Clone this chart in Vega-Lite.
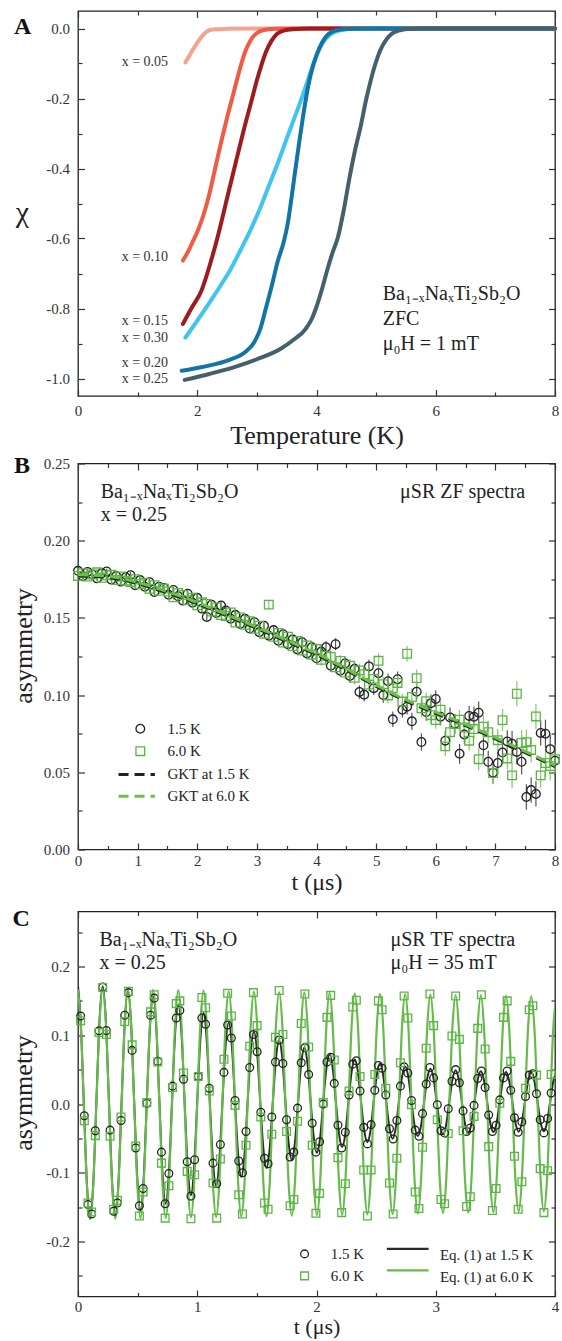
{
"$schema": "https://vega.github.io/schema/vega-lite/v6.json",
"autosize": {"type": "none"},
"padding": {"left": 78, "top": 11, "right": 484, "bottom": 1330},
"background": "white",
"spacing": 67.5,
"bounds": "flush",
"config": {
  "font": "Liberation Serif",
  "view": {"stroke": "#222", "strokeWidth": 1.3},
  "axis": {"domain": false, "grid": false, "labelFont": "Liberation Serif", "labelFontSize": 15, "labelColor": "#333", "tickColor": "#333", "tickWidth": 1.2, "titleFont": "Liberation Serif", "titleFontSize": 26, "titleFontWeight": "normal", "titleColor": "#222", "labelFlush": false, "labelOverlap": false},
  "style": {"guide-title": {"font": "Liberation Serif"}, "guide-label": {"font": "Liberation Serif"}},
  "text": {"font": "Liberation Serif", "color": "#222"}
},
"datasets": {
  "chi": [
    {"T":1.80,"chi":-0.097,"x":"0.05"},{"T":1.85,"chi":-0.083,"x":"0.05"},{"T":1.90,"chi":-0.068,"x":"0.05"},{"T":1.95,"chi":-0.054,"x":"0.05"},{"T":2.00,"chi":-0.041,"x":"0.05"},{"T":2.05,"chi":-0.029,"x":"0.05"},{"T":2.10,"chi":-0.018,"x":"0.05"},{"T":2.15,"chi":-0.010,"x":"0.05"},{"T":2.20,"chi":-0.005,"x":"0.05"},{"T":2.30,"chi":-0.002,"x":"0.05"},{"T":2.50,"chi":-0.001,"x":"0.05"},{"T":3.0,"chi":0,"x":"0.05"},{"T":8,"chi":0,"x":"0.05"},
    {"T":1.76,"chi":-0.663,"x":"0.10"},{"T":1.85,"chi":-0.636,"x":"0.10"},{"T":1.93,"chi":-0.607,"x":"0.10"},{"T":2.01,"chi":-0.577,"x":"0.10"},{"T":2.10,"chi":-0.535,"x":"0.10"},{"T":2.20,"chi":-0.475,"x":"0.10"},{"T":2.30,"chi":-0.400,"x":"0.10"},{"T":2.40,"chi":-0.325,"x":"0.10"},{"T":2.50,"chi":-0.255,"x":"0.10"},{"T":2.60,"chi":-0.190,"x":"0.10"},{"T":2.70,"chi":-0.125,"x":"0.10"},{"T":2.80,"chi":-0.068,"x":"0.10"},{"T":2.90,"chi":-0.032,"x":"0.10"},{"T":3.00,"chi":-0.013,"x":"0.10"},{"T":3.10,"chi":-0.005,"x":"0.10"},{"T":3.30,"chi":-0.001,"x":"0.10"},{"T":3.6,"chi":0,"x":"0.10"},{"T":8,"chi":0,"x":"0.10"},
    {"T":1.76,"chi":-0.844,"x":"0.15"},{"T":1.90,"chi":-0.800,"x":"0.15"},{"T":2.07,"chi":-0.749,"x":"0.15"},{"T":2.25,"chi":-0.653,"x":"0.15"},{"T":2.37,"chi":-0.577,"x":"0.15"},{"T":2.50,"chi":-0.485,"x":"0.15"},{"T":2.65,"chi":-0.380,"x":"0.15"},{"T":2.78,"chi":-0.290,"x":"0.15"},{"T":2.92,"chi":-0.200,"x":"0.15"},{"T":3.00,"chi":-0.148,"x":"0.15"},{"T":3.07,"chi":-0.108,"x":"0.15"},{"T":3.15,"chi":-0.068,"x":"0.15"},{"T":3.25,"chi":-0.034,"x":"0.15"},{"T":3.34,"chi":-0.015,"x":"0.15"},{"T":3.45,"chi":-0.006,"x":"0.15"},{"T":3.60,"chi":-0.002,"x":"0.15"},{"T":3.9,"chi":0,"x":"0.15"},{"T":8,"chi":0,"x":"0.15"},
    {"T":1.80,"chi":-0.883,"x":"0.30"},{"T":2.00,"chi":-0.835,"x":"0.30"},{"T":2.19,"chi":-0.787,"x":"0.30"},{"T":2.37,"chi":-0.740,"x":"0.30"},{"T":2.55,"chi":-0.691,"x":"0.30"},{"T":2.72,"chi":-0.635,"x":"0.30"},{"T":2.89,"chi":-0.577,"x":"0.30"},{"T":3.05,"chi":-0.515,"x":"0.30"},{"T":3.20,"chi":-0.450,"x":"0.30"},{"T":3.35,"chi":-0.385,"x":"0.30"},{"T":3.50,"chi":-0.315,"x":"0.30"},{"T":3.62,"chi":-0.260,"x":"0.30"},{"T":3.75,"chi":-0.200,"x":"0.30"},{"T":3.85,"chi":-0.150,"x":"0.30"},{"T":3.95,"chi":-0.100,"x":"0.30"},{"T":4.05,"chi":-0.058,"x":"0.30"},{"T":4.15,"chi":-0.030,"x":"0.30"},{"T":4.27,"chi":-0.013,"x":"0.30"},{"T":4.40,"chi":-0.005,"x":"0.30"},{"T":4.60,"chi":-0.001,"x":"0.30"},{"T":4.9,"chi":0,"x":"0.30"},{"T":8,"chi":0,"x":"0.30"},
    {"T":1.74,"chi":-0.978,"x":"0.20"},{"T":2.00,"chi":-0.970,"x":"0.20"},{"T":2.30,"chi":-0.959,"x":"0.20"},{"T":2.55,"chi":-0.946,"x":"0.20"},{"T":2.80,"chi":-0.925,"x":"0.20"},{"T":2.95,"chi":-0.898,"x":"0.20"},{"T":3.05,"chi":-0.862,"x":"0.20"},{"T":3.15,"chi":-0.800,"x":"0.20"},{"T":3.25,"chi":-0.735,"x":"0.20"},{"T":3.35,"chi":-0.665,"x":"0.20"},{"T":3.45,"chi":-0.610,"x":"0.20"},{"T":3.52,"chi":-0.555,"x":"0.20"},{"T":3.58,"chi":-0.485,"x":"0.20"},{"T":3.64,"chi":-0.410,"x":"0.20"},{"T":3.71,"chi":-0.325,"x":"0.20"},{"T":3.78,"chi":-0.245,"x":"0.20"},{"T":3.86,"chi":-0.165,"x":"0.20"},{"T":3.95,"chi":-0.102,"x":"0.20"},{"T":4.05,"chi":-0.055,"x":"0.20"},{"T":4.15,"chi":-0.025,"x":"0.20"},{"T":4.25,"chi":-0.010,"x":"0.20"},{"T":4.40,"chi":-0.003,"x":"0.20"},{"T":4.60,"chi":-0.001,"x":"0.20"},{"T":5.0,"chi":0,"x":"0.20"},{"T":8,"chi":0,"x":"0.20"},
    {"T":1.79,"chi":-1.004,"x":"0.25"},{"T":2.20,"chi":-0.987,"x":"0.25"},{"T":2.61,"chi":-0.968,"x":"0.25"},{"T":3.00,"chi":-0.945,"x":"0.25"},{"T":3.40,"chi":-0.915,"x":"0.25"},{"T":3.61,"chi":-0.890,"x":"0.25"},{"T":3.82,"chi":-0.858,"x":"0.25"},{"T":3.92,"chi":-0.830,"x":"0.25"},{"T":4.00,"chi":-0.795,"x":"0.25"},{"T":4.10,"chi":-0.740,"x":"0.25"},{"T":4.18,"chi":-0.690,"x":"0.25"},{"T":4.27,"chi":-0.640,"x":"0.25"},{"T":4.36,"chi":-0.596,"x":"0.25"},{"T":4.45,"chi":-0.525,"x":"0.25"},{"T":4.55,"chi":-0.430,"x":"0.25"},{"T":4.65,"chi":-0.345,"x":"0.25"},{"T":4.74,"chi":-0.280,"x":"0.25"},{"T":4.83,"chi":-0.205,"x":"0.25"},{"T":4.90,"chi":-0.155,"x":"0.25"},{"T":4.98,"chi":-0.105,"x":"0.25"},{"T":5.07,"chi":-0.062,"x":"0.25"},{"T":5.17,"chi":-0.032,"x":"0.25"},{"T":5.27,"chi":-0.014,"x":"0.25"},{"T":5.40,"chi":-0.005,"x":"0.25"},{"T":5.60,"chi":-0.001,"x":"0.25"},{"T":5.8,"chi":0,"x":"0.25"},{"T":8,"chi":0,"x":"0.25"}
  ],
  "zf": [
    {"t":0,"b":0.1805,"g":0.1772,"e":0.0017},{"t":0.08,"b":0.177,"g":0.179,"e":0.0017},{"t":0.16,"b":0.1798,"g":0.1768,"e":0.0017},{"t":0.24,"b":0.1782,"g":0.1781,"e":0.0017},{"t":0.32,"b":0.1756,"g":0.1795,"e":0.0017},{"t":0.4,"b":0.179,"g":0.176,"e":0.0017},{"t":0.48,"b":0.1801,"g":0.1776,"e":0.0017},{"t":0.56,"b":0.1748,"g":0.1779,"e":0.0019},{"t":0.64,"b":0.1771,"g":0.1745,"e":0.0019},{"t":0.72,"b":0.1735,"g":0.1768,"e":0.0019},{"t":0.8,"b":0.1763,"g":0.1741,"e":0.0019},{"t":0.88,"b":0.1777,"g":0.1733,"e":0.0019},{"t":0.96,"b":0.1712,"g":0.175,"e":0.0019},{"t":1.04,"b":0.1745,"g":0.1718,"e":0.0019},{"t":1.12,"b":0.1702,"g":0.1728,"e":0.0021},{"t":1.2,"b":0.1731,"g":0.1689,"e":0.0021},{"t":1.28,"b":0.1668,"g":0.1712,"e":0.0021},{"t":1.36,"b":0.1702,"g":0.1676,"e":0.0021},{"t":1.44,"b":0.1694,"g":0.169,"e":0.0021},{"t":1.52,"b":0.165,"g":0.1671,"e":0.0021},{"t":1.6,"b":0.1681,"g":0.1633,"e":0.0021},{"t":1.68,"b":0.164,"g":0.1662,"e":0.0024},{"t":1.76,"b":0.1612,"g":0.1648,"e":0.0024},{"t":1.84,"b":0.1657,"g":0.1615,"e":0.0024},{"t":1.92,"b":0.1598,"g":0.163,"e":0.0024},{"t":2,"b":0.163,"g":0.1582,"e":0.0024},{"t":2.08,"b":0.156,"g":0.1601,"e":0.0024},{"t":2.16,"b":0.1506,"g":0.159,"e":0.0024},{"t":2.24,"b":0.1585,"g":0.1541,"e":0.0027},{"t":2.32,"b":0.1532,"g":0.1568,"e":0.0027},{"t":2.4,"b":0.158,"g":0.1518,"e":0.0027},{"t":2.48,"b":0.1548,"g":0.1512,"e":0.0027},{"t":2.56,"b":0.1495,"g":0.1535,"e":0.0027},{"t":2.64,"b":0.152,"g":0.147,"e":0.0027},{"t":2.72,"b":0.1461,"g":0.1503,"e":0.0027},{"t":2.8,"b":0.1494,"g":0.1455,"e":0.003},{"t":2.88,"b":0.1431,"g":0.1478,"e":0.003},{"t":2.96,"b":0.1472,"g":0.1429,"e":0.003},{"t":3.04,"b":0.1408,"g":0.145,"e":0.003},{"t":3.12,"b":0.1449,"g":0.1398,"e":0.003},{"t":3.2,"b":0.1385,"g":0.1586,"e":0.003},{"t":3.28,"b":0.1421,"g":0.1377,"e":0.003},{"t":3.36,"b":0.1352,"g":0.1403,"e":0.0034},{"t":3.44,"b":0.1394,"g":0.134,"e":0.0034},{"t":3.52,"b":0.133,"g":0.1378,"e":0.0034},{"t":3.6,"b":0.1361,"g":0.1318,"e":0.0034},{"t":3.68,"b":0.1296,"g":0.135,"e":0.0034},{"t":3.76,"b":0.1342,"g":0.1289,"e":0.0034},{"t":3.84,"b":0.127,"g":0.1322,"e":0.0034},{"t":3.92,"b":0.131,"g":0.1262,"e":0.0039},{"t":4,"b":0.1238,"g":0.1298,"e":0.0039},{"t":4.08,"b":0.1282,"g":0.1229,"e":0.0039},{"t":4.16,"b":0.131,"g":0.1255,"e":0.0039},{"t":4.24,"b":0.119,"g":0.1247,"e":0.0039},{"t":4.32,"b":0.133,"g":0.118,"e":0.0039},{"t":4.4,"b":0.1158,"g":0.1221,"e":0.0039},{"t":4.48,"b":0.1205,"g":0.1146,"e":0.0044},{"t":4.56,"b":0.1124,"g":0.119,"e":0.0044},{"t":4.64,"b":0.117,"g":0.1112,"e":0.0044},{"t":4.72,"b":0.102,"g":0.116,"e":0.0044},{"t":4.8,"b":0.1003,"g":0.1135,"e":0.0044},{"t":4.88,"b":0.1186,"g":0.1068,"e":0.0044},{"t":4.96,"b":0.1045,"g":0.1105,"e":0.0044},{"t":5.04,"b":0.1142,"g":0.1222,"e":0.005},{"t":5.12,"b":0.1,"g":0.107,"e":0.005},{"t":5.2,"b":0.109,"g":0.0998,"e":0.005},{"t":5.28,"b":0.0843,"g":0.1045,"e":0.005},{"t":5.36,"b":0.1103,"g":0.1079,"e":0.005},{"t":5.44,"b":0.0905,"g":0.0958,"e":0.005},{"t":5.52,"b":0.0925,"g":0.1268,"e":0.005},{"t":5.6,"b":0.083,"g":0.0988,"e":0.0056},{"t":5.68,"b":0.1022,"g":0.111,"e":0.0056},{"t":5.76,"b":0.0696,"g":0.0915,"e":0.0056},{"t":5.84,"b":0.089,"g":0.096,"e":0.0056},{"t":5.92,"b":0.0948,"g":0.087,"e":0.0056},{"t":6,"b":0.0975,"g":0.0838,"e":0.0056},{"t":6.08,"b":0.086,"g":0.0905,"e":0.0056},{"t":6.16,"b":0.0705,"g":0.0668,"e":0.0064},{"t":6.24,"b":0.0855,"g":0.076,"e":0.0064},{"t":6.32,"b":0.0815,"g":0.0812,"e":0.0064},{"t":6.4,"b":0.062,"g":0.084,"e":0.0064},{"t":6.48,"b":0.0745,"g":0.079,"e":0.0064},{"t":6.56,"b":0.0865,"g":0.0705,"e":0.0064},{"t":6.64,"b":0.086,"g":0.078,"e":0.0064},{"t":6.72,"b":0.0886,"g":0.0585,"e":0.0072},{"t":6.8,"b":0.0675,"g":0.0795,"e":0.0072},{"t":6.88,"b":0.0568,"g":0.076,"e":0.0072},{"t":6.96,"b":0.0498,"g":0.0495,"e":0.0072},{"t":7.04,"b":0.056,"g":0.0708,"e":0.0072},{"t":7.12,"b":0.0628,"g":0.0838,"e":0.0072},{"t":7.2,"b":0.07,"g":0.059,"e":0.0072},{"t":7.28,"b":0.0685,"g":0.048,"e":0.0082},{"t":7.36,"b":0.0632,"g":0.1009,"e":0.0082},{"t":7.44,"b":0.0568,"g":0.069,"e":0.0082},{"t":7.52,"b":0.034,"g":0.0695,"e":0.0082},{"t":7.6,"b":0.0385,"g":0.0645,"e":0.0082},{"t":7.68,"b":0.036,"g":0.0862,"e":0.0082},{"t":7.76,"b":0.0755,"g":0.048,"e":0.0082},{"t":7.84,"b":0.075,"g":0.056,"e":0.0091},{"t":7.92,"b":0.065,"g":0.054,"e":0.0091},{"t":8,"b":0.0575,"g":0.0585,"e":0.0095}
  ],
  "zffit": [
    {"t":0,"fb":0.1772,"fg":0.178},{"t":0.5,"fb":0.1762,"fg":0.177},{"t":1,"fb":0.1722,"fg":0.173},{"t":1.5,"fb":0.1662,"fg":0.167},{"t":2,"fb":0.1592,"fg":0.16},{"t":2.5,"fb":0.1512,"fg":0.152},{"t":3,"fb":0.1432,"fg":0.144},{"t":3.5,"fb":0.1347,"fg":0.1355},{"t":4,"fb":0.1262,"fg":0.127},{"t":4.5,"fb":0.1162,"fg":0.117},{"t":5,"fb":0.1057,"fg":0.1065},{"t":5.5,"fb":0.0962,"fg":0.097},{"t":6,"fb":0.0882,"fg":0.089},{"t":6.5,"fb":0.0802,"fg":0.081},{"t":7,"fb":0.0717,"fg":0.0725},{"t":7.5,"fb":0.0627,"fg":0.0635},{"t":8,"fb":0.0537,"fg":0.0545}
  ],
  "tf": [
    {"t":0.022,"b":0.128,"g":0.121},{"t":0.053,"b":-0.017,"g":-0.0245},{"t":0.084,"b":-0.1462,"g":-0.144},{"t":0.114,"b":-0.16,"g":-0.157},{"t":0.145,"b":-0.039,"g":-0.046},{"t":0.176,"b":0.1065,"g":0.104},{"t":0.207,"b":0.17,"g":0.1695},{"t":0.238,"b":0.107,"g":0.101},{"t":0.269,"b":-0.038,"g":-0.047},{"t":0.299,"b":-0.156,"g":-0.153},{"t":0.33,"b":-0.144,"g":-0.14},{"t":0.361,"b":-0.024,"g":-0.019},{"t":0.392,"b":0.129,"g":0.12},{"t":0.423,"b":0.162,"g":0.164},{"t":0.454,"b":0.078,"g":0.086},{"t":0.484,"b":-0.064,"g":-0.061},{"t":0.515,"b":-0.148,"g":-0.163},{"t":0.546,"b":-0.123,"g":-0.128},{"t":0.577,"b":0.001,"g":0.002},{"t":0.608,"b":0.129,"g":0.134},{"t":0.639,"b":0.154,"g":0.159},{"t":0.669,"b":0.062,"g":0.061},{"t":0.7,"b":-0.07,"g":-0.086},{"t":0.731,"b":-0.145,"g":-0.166},{"t":0.762,"b":-0.101,"g":-0.119},{"t":0.793,"b":0.026,"g":0.024},{"t":0.824,"b":0.125,"g":0.146},{"t":0.854,"b":0.136,"g":0.15},{"t":0.885,"b":0.036,"g":0.045},{"t":0.916,"b":-0.084,"g":-0.098},{"t":0.947,"b":-0.134,"g":-0.167},{"t":0.978,"b":-0.081,"g":-0.103},{"t":1.009,"b":0.04,"g":0.04},{"t":1.039,"b":0.125,"g":0.155},{"t":1.07,"b":0.116,"g":0.14},{"t":1.101,"b":0.023,"g":0.019},{"t":1.132,"b":-0.086,"g":-0.115},{"t":1.163,"b":-0.116,"g":-0.166},{"t":1.194,"b":-0.059,"g":-0.08},{"t":1.224,"b":0.046,"g":0.065},{"t":1.255,"b":0.115,"g":0.161},{"t":1.286,"b":0.096,"g":0.128},{"t":1.317,"b":0.005,"g":-0.002},{"t":1.348,"b":-0.083,"g":-0.132},{"t":1.379,"b":-0.1,"g":-0.16},{"t":1.409,"b":-0.04,"g":-0.06},{"t":1.44,"b":0.053,"g":0.084},{"t":1.471,"b":0.101,"g":0.162},
    {"t":1.502,"b":0.076,"g":0.114},{"t":1.533,"b":-0.012,"g":-0.019},{"t":1.564,"b":-0.079,"g":-0.144},{"t":1.594,"b":-0.087,"g":-0.153},{"t":1.625,"b":-0.019,"g":-0.044},{"t":1.656,"b":0.061,"g":0.097},{"t":1.687,"b":0.093,"g":0.165},{"t":1.718,"b":0.059,"g":0.101},{"t":1.749,"b":-0.023,"g":-0.04},{"t":1.779,"b":-0.077,"g":-0.148},{"t":1.81,"b":-0.07,"g":-0.139},{"t":1.841,"b":-0.006,"g":-0.025},{"t":1.872,"b":0.06,"g":0.117},{"t":1.903,"b":0.082,"g":0.16},{"t":1.934,"b":0.043,"g":0.083},{"t":1.964,"b":-0.028,"g":-0.06},{"t":1.995,"b":-0.07,"g":-0.159},{"t":2.026,"b":-0.055,"g":-0.13},{"t":2.057,"b":0,"g":0.002},{"t":2.088,"b":0.061,"g":0.126},{"t":2.119,"b":0.068,"g":0.158},{"t":2.149,"b":0.03,"g":0.064},{"t":2.18,"b":-0.031,"g":-0.078},{"t":2.211,"b":-0.064,"g":-0.158},{"t":2.242,"b":-0.041,"g":-0.116},{"t":2.273,"b":0.013,"g":0.019},{"t":2.304,"b":0.058,"g":0.141},{"t":2.334,"b":0.063,"g":0.151},{"t":2.365,"b":0.019,"g":0.04},{"t":2.396,"b":-0.034,"g":-0.096},{"t":2.427,"b":-0.058,"g":-0.163},{"t":2.458,"b":-0.03,"g":-0.096},{"t":2.489,"b":0.02,"g":0.043},{"t":2.519,"b":0.056,"g":0.15},{"t":2.55,"b":0.052,"g":0.137},{"t":2.581,"b":0.013,"g":0.023},{"t":2.612,"b":-0.036,"g":-0.115},{"t":2.643,"b":-0.051,"g":-0.16},{"t":2.674,"b":-0.024,"g":-0.079},{"t":2.704,"b":0.026,"g":0.06},{"t":2.735,"b":0.054,"g":0.157},{"t":2.766,"b":0.045,"g":0.125},{"t":2.797,"b":0.005,"g":-0.001},{"t":2.828,"b":-0.038,"g":-0.128},{"t":2.859,"b":-0.047,"g":-0.152},{"t":2.889,"b":-0.014,"g":-0.063},{"t":2.92,"b":0.029,"g":0.081},{"t":2.951,"b":0.053,"g":0.16},
    {"t":2.982,"b":0.038,"g":0.114},{"t":3.013,"b":-0.001,"g":-0.023},{"t":3.044,"b":-0.039,"g":-0.139},{"t":3.074,"b":-0.042,"g":-0.145},{"t":3.105,"b":-0.007,"g":-0.043},{"t":3.136,"b":0.033,"g":0.099},{"t":3.167,"b":0.05,"g":0.157},{"t":3.198,"b":0.031,"g":0.094},{"t":3.229,"b":-0.01,"g":-0.039},{"t":3.259,"b":-0.04,"g":-0.149},{"t":3.29,"b":-0.035,"g":-0.135},{"t":3.321,"b":-0.002,"g":-0.018},{"t":3.352,"b":0.037,"g":0.11},{"t":3.383,"b":0.048,"g":0.159},{"t":3.414,"b":0.024,"g":0.08},{"t":3.444,"b":-0.016,"g":-0.062},{"t":3.475,"b":-0.04,"g":-0.155},{"t":3.506,"b":-0.031,"g":-0.123},{"t":3.537,"b":0.006,"g":0.001},{"t":3.568,"b":0.038,"g":0.126},{"t":3.599,"b":0.048,"g":0.15},{"t":3.629,"b":0.02,"g":0.062},{"t":3.66,"b":-0.02,"g":-0.076},{"t":3.691,"b":-0.041,"g":-0.153},{"t":3.722,"b":-0.026,"g":-0.113},{"t":3.753,"b":0.011,"g":0.023},{"t":3.784,"b":0.042,"g":0.137},{"t":3.814,"b":0.044,"g":0.143},{"t":3.845,"b":0.015,"g":0.042},{"t":3.876,"b":-0.023,"g":-0.094},{"t":3.907,"b":-0.042,"g":-0.158},{"t":3.938,"b":-0.021,"g":-0.097},{"t":3.968,"b":0.016,"g":0.043}
  ],
  "tffit": [
    {"t":0,"b":0.1715,"g":0.1665},{"t":0.022,"b":0.1232,"g":0.1188},{"t":0.0485,"b":0.003,"g":0},{"t":0.0749,"b":-0.1169,"g":-0.1186},{"t":0.1013,"b":-0.1666,"g":-0.1677},{"t":0.1277,"b":-0.1169,"g":-0.1186},{"t":0.1541,"b":0.003,"g":0},{"t":0.1806,"b":0.1219,"g":0.1184},{"t":0.207,"b":0.1711,"g":0.1674},{"t":0.2334,"b":0.1219,"g":0.1184},{"t":0.2598,"b":0.003,"g":0},{"t":0.2863,"b":-0.1142,"g":-0.1182},{"t":0.3127,"b":-0.1628,"g":-0.1671},{"t":0.3391,"b":-0.1142,"g":-0.1182},{"t":0.3655,"b":0.003,"g":0},{"t":0.392,"b":0.118,"g":0.1179},{"t":0.4184,"b":0.1656,"g":0.1667},{"t":0.4448,"b":0.118,"g":0.1179},{"t":0.4712,"b":0.003,"g":0},{"t":0.4977,"b":-0.109,"g":-0.1177},{"t":0.5241,"b":-0.1554,"g":-0.1664},{"t":0.5505,"b":-0.109,"g":-0.1177},{"t":0.5769,"b":0.003,"g":0},{"t":0.6034,"b":0.1115,"g":0.1175},{"t":0.6298,"b":0.1565,"g":0.1661},{"t":0.6562,"b":0.1115,"g":0.1175},{"t":0.6826,"b":0.003,"g":0},{"t":0.709,"b":-0.1018,"g":-0.1172},{"t":0.7355,"b":-0.1452,"g":-0.1658},{"t":0.7619,"b":-0.1018,"g":-0.1172},{"t":0.7883,"b":0.003,"g":0},{"t":0.8147,"b":0.1035,"g":0.117},{"t":0.8412,"b":0.1452,"g":0.1655},{"t":0.8676,"b":0.1035,"g":0.117},{"t":0.894,"b":0.003,"g":0},{"t":0.9204,"b":-0.093,"g":-0.1168},{"t":0.9469,"b":-0.1328,"g":-0.1652},{"t":0.9733,"b":-0.093,"g":-0.1168},{"t":0.9997,"b":0.003,"g":0},{"t":1.0261,"b":0.0944,"g":0.1165},{"t":1.0526,"b":0.1322,"g":0.1648},{"t":1.079,"b":0.0944,"g":0.1165},{"t":1.1054,"b":0.003,"g":0},{"t":1.1318,"b":-0.0835,"g":-0.1163},{"t":1.1583,"b":-0.1194,"g":-0.1645},{"t":1.1847,"b":-0.0835,"g":-0.1163},{"t":1.2111,"b":0.003,"g":0},{"t":1.2375,"b":0.0847,"g":0.1161},{"t":1.264,"b":0.1186,"g":0.1642},{"t":1.2904,"b":0.0847,"g":0.1161},{"t":1.3168,"b":0.003,"g":0},{"t":1.3432,"b":-0.074,"g":-0.1159},{"t":1.3696,"b":-0.1059,"g":-0.1639},{"t":1.3961,"b":-0.074,"g":-0.1159},{"t":1.4225,"b":0.003,"g":0},{"t":1.4489,"b":0.0753,"g":0.1157},{"t":1.4753,"b":0.1053,"g":0.1636},{"t":1.5018,"b":0.0753,"g":0.1157},{"t":1.5282,"b":0.003,"g":0},{"t":1.5546,"b":-0.0648,"g":-0.1155},{"t":1.581,"b":-0.0929,"g":-0.1633},{"t":1.6075,"b":-0.0648,"g":-0.1155},{"t":1.6339,"b":0.003,"g":0},{"t":1.6603,"b":0.0665,"g":0.1152},{"t":1.6867,"b":0.0928,"g":0.1629},{"t":1.7132,"b":0.0665,"g":0.1152},{"t":1.7396,"b":0.003,"g":0},{"t":1.766,"b":-0.0565,"g":-0.115},{"t":1.7924,"b":-0.0811,"g":-0.1626},{"t":1.8189,"b":-0.0565,"g":-0.115},{"t":1.8453,"b":0.003,"g":0},{"t":1.8717,"b":0.0587,"g":0.1148},{"t":1.8981,"b":0.0818,"g":0.1623},{"t":1.9245,"b":0.0587,"g":0.1148},{"t":1.951,"b":0.003,"g":0},{"t":1.9774,"b":-0.0493,"g":-0.1146},{"t":2.0038,"b":-0.0709,"g":-0.162},{"t":2.0302,"b":-0.0493,"g":-0.1146},{"t":2.0567,"b":0.003,"g":0},{"t":2.0831,"b":0.0521,"g":0.1143},{"t":2.1095,"b":0.0724,"g":0.1617},{"t":2.1359,"b":0.0521,"g":0.1143},{"t":2.1624,"b":0.003,"g":0},{"t":2.1888,"b":-0.0433,"g":-0.1141},{"t":2.2152,"b":-0.0625,"g":-0.1614},{"t":2.2416,"b":-0.0433,"g":-0.1141},{"t":2.2681,"b":0.003,"g":0},{"t":2.2945,"b":0.0468,"g":0.1138},{"t":2.3209,"b":0.0649,"g":0.161},{"t":2.3473,"b":0.0468,"g":0.1138},{"t":2.3738,"b":0.003,"g":0},{"t":2.4002,"b":-0.0384,"g":-0.1136},{"t":2.4266,"b":-0.0556,"g":-0.1607},{"t":2.453,"b":-0.0384,"g":-0.1136},{"t":2.4795,"b":0.003,"g":0},{"t":2.5059,"b":0.0425,"g":0.1134},{"t":2.5323,"b":0.0589,"g":0.1604},{"t":2.5587,"b":0.0425,"g":0.1134},{"t":2.5851,"b":0.003,"g":0},{"t":2.6116,"b":-0.0348,"g":-0.1132},{"t":2.638,"b":-0.0505,"g":-0.1601},{"t":2.6644,"b":-0.0348,"g":-0.1132},{"t":2.6908,"b":0.003,"g":0},{"t":2.7173,"b":0.0394,"g":0.113},{"t":2.7437,"b":0.0545,"g":0.1598},{"t":2.7701,"b":0.0394,"g":0.113},{"t":2.7965,"b":0.003,"g":0},{"t":2.823,"b":-0.0321,"g":-0.1128},{"t":2.8494,"b":-0.0467,"g":-0.1595},{"t":2.8758,"b":-0.0321,"g":-0.1128},{"t":2.9022,"b":0.003,"g":0},{"t":2.9287,"b":0.0372,"g":0.1125},{"t":2.9551,"b":0.0513,"g":0.1591},{"t":2.9815,"b":0.0372,"g":0.1125},{"t":3.0079,"b":0.003,"g":0},{"t":3.0344,"b":-0.0303,"g":-0.1123},{"t":3.0608,"b":-0.0441,"g":-0.1588},{"t":3.0872,"b":-0.0303,"g":-0.1123},{"t":3.1136,"b":0.003,"g":0},{"t":3.14,"b":0.0355,"g":0.1121},{"t":3.1665,"b":0.049,"g":0.1585},{"t":3.1929,"b":0.0355,"g":0.1121},{"t":3.2193,"b":0.003,"g":0},{"t":3.2457,"b":-0.029,"g":-0.1119},{"t":3.2722,"b":-0.0422,"g":-0.1582},{"t":3.2986,"b":-0.029,"g":-0.1119},{"t":3.325,"b":0.003,"g":0},{"t":3.3514,"b":0.0345,"g":0.1117},{"t":3.3779,"b":0.0475,"g":0.1579},{"t":3.4043,"b":0.0345,"g":0.1117},{"t":3.4307,"b":0.003,"g":0},{"t":3.4571,"b":-0.028,"g":-0.1114},{"t":3.4836,"b":-0.0409,"g":-0.1576},{"t":3.51,"b":-0.028,"g":-0.1114},{"t":3.5364,"b":0.003,"g":0},{"t":3.5628,"b":0.0338,"g":0.1112},{"t":3.5893,"b":0.0465,"g":0.1572},{"t":3.6157,"b":0.0338,"g":0.1112},{"t":3.6421,"b":0.003,"g":0},{"t":3.6685,"b":-0.0275,"g":-0.1109},{"t":3.695,"b":-0.0402,"g":-0.1569},{"t":3.7214,"b":-0.0275,"g":-0.1109},{"t":3.7478,"b":0.003,"g":0},{"t":3.7742,"b":0.0333,"g":0.1107},{"t":3.8006,"b":0.0459,"g":0.1566},{"t":3.8271,"b":0.0333,"g":0.1107},{"t":3.8535,"b":0.003,"g":0},{"t":3.8799,"b":-0.0272,"g":-0.1105},{"t":3.9063,"b":-0.0397,"g":-0.1563},{"t":3.9328,"b":-0.0272,"g":-0.1105},{"t":3.9592,"b":0.003,"g":0},{"t":3.9856,"b":0.0331,"g":0.1103},{"t":4.012,"b":0.0455,"g":0.156}
  ]
},
"vconcat": [
  {
    "width": 477, "height": 385,
    "layer": [
      {
        "data": {"name": "chi"},
        "mark": {"type": "line", "strokeWidth": 4, "strokeCap": "round", "interpolate": "monotone"},
        "encoding": {
          "x": {"field": "T", "type": "quantitative", "scale": {"domain": [0, 8], "nice": false, "zero": false},
            "axis": {"orient": "bottom", "values": [0,1,2,3,4,5,6,7,8], "tickSize": {"condition": {"test": "datum.value % 2 !== 0", "value": -4}, "value": -6.5}, "labelPadding": 14, "labelExpr": "datum.value % 2 !== 0 ? '' : format(datum.value, 'd')", "title": "Temperature (K)", "titlePadding": 1, "titleFont": "Liberation Serif"}},
          "y": {"field": "chi", "type": "quantitative", "scale": {"domain": [-1.05, 0.05], "nice": false, "zero": false},
            "axis": {"orient": "left", "values": [-1,-0.9,-0.8,-0.7,-0.6,-0.5,-0.4,-0.3,-0.2,-0.1,0], "tickSize": {"condition": {"test": "abs(round(datum.value*10)) % 2 === 1", "value": -4}, "value": -6.5}, "labelPadding": 15, "labelExpr": "abs(round(datum.value*10)) % 2 === 1 ? '' : replace(format(datum.value, '.1f'), '−', '-')", "title": "χ", "titleAngle": 0, "titleX": -56, "titleY": 201, "titleAlign": "center", "titleBaseline": "middle", "titleFontSize": 30, "titleFont": "Liberation Serif"}},
          "color": {"field": "x", "type": "nominal", "scale": {"domain": ["0.05","0.10","0.15","0.30","0.20","0.25"], "range": ["#F4A48E","#F15B45","#9C1C20","#41C4F2","#1374A6","#44606C"]}, "legend": null}
        }
      },
      {
        "data": {"name": "chi"},
        "mark": {"type": "line", "opacity": 0},
        "encoding": {
          "x": {"field": "T", "type": "quantitative", "scale": {"domain": [0, 8], "nice": false, "zero": false},
            "axis": {"orient": "top", "values": [0,1,2,3,4,5,6,7,8], "tickSize": {"condition": {"test": "datum.value % 2 !== 0", "value": -4}, "value": -6.5}, "labels": false, "title": null}},
          "y": {"field": "chi", "type": "quantitative", "scale": {"domain": [-1.05, 0.05], "nice": false, "zero": false},
            "axis": {"orient": "right", "values": [-1,-0.9,-0.8,-0.7,-0.6,-0.5,-0.4,-0.3,-0.2,-0.1,0], "tickSize": {"condition": {"test": "abs(round(datum.value*10)) % 2 === 1", "value": -4}, "value": -6.5}, "labels": false, "title": null}},
          "detail": {"field": "x"}
        }
      },
      {
        "data": {"values": [{"T":1.51,"chi":-0.095,"label":"x = 0.05"},{"T":1.51,"chi":-0.653,"label":"x = 0.10"},{"T":1.51,"chi":-0.837,"label":"x = 0.15"},{"T":1.51,"chi":-0.884,"label":"x = 0.30"},{"T":1.51,"chi":-0.956,"label":"x = 0.20"},{"T":1.51,"chi":-1.0,"label":"x = 0.25"}]},
        "mark": {"type": "text", "align": "right", "baseline": "middle", "fontSize": 14, "color": "#333", "font": "Liberation Serif"},
        "encoding": {
          "x": {"field": "T", "type": "quantitative", "scale": {"domain": [0, 8], "nice": false, "zero": false}, "axis": null},
          "y": {"field": "chi", "type": "quantitative", "scale": {"domain": [-1.05, 0.05], "nice": false, "zero": false}, "axis": null},
          "text": {"field": "label"}
        }
      },
      {
        "data": {"values": [{"T":5.11,"chi":-0.758,"label":"Ba₁₋ₓNaₓTi₂Sb₂O"},{"T":5.11,"chi":-0.829,"label":"ZFC"},{"T":5.11,"chi":-0.901,"label":"μ₀H = 1 mT"}]},
        "mark": {"type": "text", "align": "left", "baseline": "middle", "fontSize": 20, "color": "#222", "font": "Liberation Serif"},
        "encoding": {
          "x": {"field": "T", "type": "quantitative", "scale": {"domain": [0, 8], "nice": false, "zero": false}, "axis": null},
          "y": {"field": "chi", "type": "quantitative", "scale": {"domain": [-1.05, 0.05], "nice": false, "zero": false}, "axis": null},
          "text": {"field": "label"}
        }
      },
      {
        "data": {"values": [{"T":-0.93,"chi":0.004,"label":"A"}]},
        "mark": {"type": "text", "align": "center", "baseline": "middle", "fontSize": 24, "fontWeight": "bold", "color": "#111", "font": "Liberation Serif"},
        "encoding": {
          "x": {"field": "T", "type": "quantitative", "scale": {"domain": [0, 8], "nice": false, "zero": false}, "axis": null},
          "y": {"field": "chi", "type": "quantitative", "scale": {"domain": [-1.05, 0.05], "nice": false, "zero": false}, "axis": null},
          "text": {"field": "label"}
        }
      }
    ],
    "resolve": {"axis": {"x": "independent", "y": "independent"}}
  },
  {
    "spacing": 62,
    "bounds": "flush",
    "vconcat": [
      {
        "width": 477, "height": 386,
        "layer": [
          {
            "data": {"name": "zf"},
            "mark": {"type": "errorbar", "color": "#555", "thickness": 1.2},
            "encoding": {
              "x": {"field": "t", "type": "quantitative", "scale": {"domain": [0, 8], "nice": false, "zero": false}, "axis": null},
              "y": {"field": "b", "type": "quantitative", "scale": {"domain": [0, 0.25], "nice": false, "zero": false}, "axis": null},
              "yError": {"field": "e"}
            }
          },
          {
            "data": {"name": "zf"},
            "mark": {"type": "errorbar", "color": "#86C96A", "thickness": 1.2},
            "encoding": {
              "x": {"field": "t", "type": "quantitative", "scale": {"domain": [0, 8], "nice": false, "zero": false}, "axis": null},
              "y": {"field": "g", "type": "quantitative", "scale": {"domain": [0, 0.25], "nice": false, "zero": false}, "axis": null},
              "yError": {"field": "e"}
            }
          },
          {
            "data": {"name": "zf"},
            "mark": {"type": "point", "shape": "circle", "filled": false, "size": 75, "stroke": "#222", "strokeWidth": 1.3, "opacity": 1},
            "encoding": {
              "x": {"field": "t", "type": "quantitative", "scale": {"domain": [0, 8], "nice": false, "zero": false},
                "axis": {"orient": "bottom", "values": [0,0.5,1,1.5,2,2.5,3,3.5,4,4.5,5,5.5,6,6.5,7,7.5,8], "tickSize": {"condition": {"test": "datum.value % 1 !== 0", "value": -4}, "value": -6.5}, "labelPadding": 10, "labelExpr": "datum.value % 1 !== 0 ? '' : format(datum.value, 'd')", "title": "t (μs)", "titlePadding": 0, "titleFontSize": 24, "titleFont": "Liberation Serif"}},
              "y": {"field": "b", "type": "quantitative", "scale": {"domain": [0, 0.25], "nice": false, "zero": false},
                "axis": {"orient": "left", "values": [0,0.025,0.05,0.075,0.1,0.125,0.15,0.175,0.2,0.225,0.25], "tickSize": {"condition": {"test": "round(datum.value*1000) % 50 !== 0", "value": -4}, "value": -6.5}, "labelPadding": 15, "labelExpr": "round(datum.value*1000) % 50 !== 0 ? '' : format(datum.value, '.2f')", "title": "asymmetry", "titleX": -55, "titleY": 182, "titleAlign": "center", "titleBaseline": "middle", "titleFont": "Liberation Serif"}}
            }
          },
          {
            "data": {"name": "zf"},
            "mark": {"type": "point", "shape": "square", "filled": false, "size": 75, "stroke": "#5BB544", "strokeWidth": 1.3, "opacity": 1},
            "encoding": {
              "x": {"field": "t", "type": "quantitative", "scale": {"domain": [0, 8], "nice": false, "zero": false},
                "axis": {"orient": "top", "values": [0,0.5,1,1.5,2,2.5,3,3.5,4,4.5,5,5.5,6,6.5,7,7.5,8], "tickSize": {"condition": {"test": "datum.value % 1 !== 0", "value": -4}, "value": -6.5}, "labels": false, "title": null}},
              "y": {"field": "g", "type": "quantitative", "scale": {"domain": [0, 0.25], "nice": false, "zero": false},
                "axis": {"orient": "right", "values": [0,0.025,0.05,0.075,0.1,0.125,0.15,0.175,0.2,0.225,0.25], "tickSize": {"condition": {"test": "round(datum.value*1000) % 50 !== 0", "value": -4}, "value": -6.5}, "labels": false, "title": null}}
            }
          },
          {
            "data": {"name": "zffit"},
            "mark": {"type": "line", "color": "#222", "strokeWidth": 3, "strokeDash": [10, 6], "interpolate": "monotone"},
            "encoding": {
              "x": {"field": "t", "type": "quantitative", "scale": {"domain": [0, 8], "nice": false, "zero": false}, "axis": null},
              "y": {"field": "fb", "type": "quantitative", "scale": {"domain": [0, 0.25], "nice": false, "zero": false}, "axis": null}
            }
          },
          {
            "data": {"name": "zffit"},
            "mark": {"type": "line", "color": "#6CC04A", "strokeWidth": 3, "strokeDash": [10, 6], "interpolate": "monotone"},
            "encoding": {
              "x": {"field": "t", "type": "quantitative", "scale": {"domain": [0, 8], "nice": false, "zero": false}, "axis": null},
              "y": {"field": "fg", "type": "quantitative", "scale": {"domain": [0, 0.25], "nice": false, "zero": false}, "axis": null}
            }
          },
          {
            "data": {"values": [{"t":1.045,"y":0.0782}]},
            "mark": {"type": "point", "shape": "circle", "filled": false, "size": 75, "stroke": "#222", "strokeWidth": 1.3, "opacity": 1},
            "encoding": {
              "x": {"field": "t", "type": "quantitative", "scale": {"domain": [0, 8], "nice": false, "zero": false}, "axis": null},
              "y": {"field": "y", "type": "quantitative", "scale": {"domain": [0, 0.25], "nice": false, "zero": false}, "axis": null}
            }
          },
          {
            "data": {"values": [{"t":1.045,"y":0.0637}]},
            "mark": {"type": "point", "shape": "square", "filled": false, "size": 75, "stroke": "#5BB544", "strokeWidth": 1.3, "opacity": 1},
            "encoding": {
              "x": {"field": "t", "type": "quantitative", "scale": {"domain": [0, 8], "nice": false, "zero": false}, "axis": null},
              "y": {"field": "y", "type": "quantitative", "scale": {"domain": [0, 0.25], "nice": false, "zero": false}, "axis": null}
            }
          },
          {
            "data": {"values": [{"t":0.68,"y":0.0486},{"t":1.29,"y":0.0486}]},
            "mark": {"type": "line", "color": "#222", "strokeWidth": 3, "strokeDash": [10, 6]},
            "encoding": {
              "x": {"field": "t", "type": "quantitative", "scale": {"domain": [0, 8], "nice": false, "zero": false}, "axis": null},
              "y": {"field": "y", "type": "quantitative", "scale": {"domain": [0, 0.25], "nice": false, "zero": false}, "axis": null}
            }
          },
          {
            "data": {"values": [{"t":0.68,"y":0.0345},{"t":1.29,"y":0.0345}]},
            "mark": {"type": "line", "color": "#6CC04A", "strokeWidth": 3, "strokeDash": [10, 6]},
            "encoding": {
              "x": {"field": "t", "type": "quantitative", "scale": {"domain": [0, 8], "nice": false, "zero": false}, "axis": null},
              "y": {"field": "y", "type": "quantitative", "scale": {"domain": [0, 0.25], "nice": false, "zero": false}, "axis": null}
            }
          },
          {
            "data": {"values": [{"t":1.5,"y":0.0782,"label":"1.5 K"},{"t":1.5,"y":0.0637,"label":"6.0 K"},{"t":1.5,"y":0.0486,"label":"GKT at 1.5 K"},{"t":1.5,"y":0.0345,"label":"GKT at 6.0 K"}]},
            "mark": {"type": "text", "align": "left", "baseline": "middle", "fontSize": 15, "color": "#222", "font": "Liberation Serif"},
            "encoding": {
              "x": {"field": "t", "type": "quantitative", "scale": {"domain": [0, 8], "nice": false, "zero": false}, "axis": null},
              "y": {"field": "y", "type": "quantitative", "scale": {"domain": [0, 0.25], "nice": false, "zero": false}, "axis": null},
              "text": {"field": "label"}
            }
          },
          {
            "data": {"values": [{"t":0.38,"y":0.2316,"label":"Ba₁₋ₓNaₓTi₂Sb₂O"},{"t":0.38,"y":0.2165,"label":"x = 0.25"}]},
            "mark": {"type": "text", "align": "left", "baseline": "middle", "fontSize": 20, "color": "#222", "font": "Liberation Serif"},
            "encoding": {
              "x": {"field": "t", "type": "quantitative", "scale": {"domain": [0, 8], "nice": false, "zero": false}, "axis": null},
              "y": {"field": "y", "type": "quantitative", "scale": {"domain": [0, 0.25], "nice": false, "zero": false}, "axis": null},
              "text": {"field": "label"}
            }
          },
          {
            "data": {"values": [{"t":7.5,"y":0.2316,"label":"μSR ZF spectra"}]},
            "mark": {"type": "text", "align": "right", "baseline": "middle", "fontSize": 20, "color": "#222", "font": "Liberation Serif"},
            "encoding": {
              "x": {"field": "t", "type": "quantitative", "scale": {"domain": [0, 8], "nice": false, "zero": false}, "axis": null},
              "y": {"field": "y", "type": "quantitative", "scale": {"domain": [0, 0.25], "nice": false, "zero": false}, "axis": null},
              "text": {"field": "label"}
            }
          },
          {
            "data": {"values": [{"t":-0.94,"y":0.2487,"label":"B"}]},
            "mark": {"type": "text", "align": "center", "baseline": "middle", "fontSize": 24, "fontWeight": "bold", "color": "#111", "font": "Liberation Serif"},
            "encoding": {
              "x": {"field": "t", "type": "quantitative", "scale": {"domain": [0, 8], "nice": false, "zero": false}, "axis": null},
              "y": {"field": "y", "type": "quantitative", "scale": {"domain": [0, 0.25], "nice": false, "zero": false}, "axis": null},
              "text": {"field": "label"}
            }
          }
        ],
        "resolve": {"axis": {"x": "independent", "y": "independent"}}
      },
      {
        "width": 477, "height": 385,
        "layer": [
          {
            "data": {"name": "tffit"},
            "mark": {"type": "line", "color": "#2a2a2a", "strokeWidth": 2, "interpolate": "monotone", "clip": true},
            "encoding": {
              "x": {"field": "t", "type": "quantitative", "scale": {"domain": [0, 4], "nice": false, "zero": false}, "axis": null},
              "y": {"field": "b", "type": "quantitative", "scale": {"domain": [-0.28, 0.28], "nice": false, "zero": false}, "axis": null}
            }
          },
          {
            "data": {"name": "tffit"},
            "mark": {"type": "line", "color": "#66BB4A", "strokeWidth": 2.2, "interpolate": "monotone", "clip": true},
            "encoding": {
              "x": {"field": "t", "type": "quantitative", "scale": {"domain": [0, 4], "nice": false, "zero": false}, "axis": null},
              "y": {"field": "g", "type": "quantitative", "scale": {"domain": [-0.28, 0.28], "nice": false, "zero": false}, "axis": null}
            }
          },
          {
            "data": {"name": "tf"},
            "mark": {"type": "point", "shape": "circle", "filled": false, "size": 60, "stroke": "#222", "strokeWidth": 1.3, "opacity": 1},
            "encoding": {
              "x": {"field": "t", "type": "quantitative", "scale": {"domain": [0, 4], "nice": false, "zero": false},
                "axis": {"orient": "bottom", "values": [0,0.5,1,1.5,2,2.5,3,3.5,4], "tickSize": {"condition": {"test": "datum.value % 1 !== 0", "value": -4}, "value": -6.5}, "labelPadding": 9, "labelExpr": "datum.value % 1 !== 0 ? '' : format(datum.value, 'd')", "title": "t (μs)", "titlePadding": 0, "titleFontSize": 22, "titleFont": "Liberation Serif"}},
              "y": {"field": "b", "type": "quantitative", "scale": {"domain": [-0.28, 0.28], "nice": false, "zero": false},
                "axis": {"orient": "left", "values": [-0.25,-0.2,-0.15,-0.1,-0.05,0,0.05,0.1,0.15,0.2,0.25], "tickSize": {"condition": {"test": "abs(round(datum.value*100)) % 10 !== 0", "value": -4}, "value": -6.5}, "labelPadding": 15, "labelExpr": "abs(round(datum.value*100)) % 10 !== 0 ? '' : replace(format(datum.value, '.1f'), '−', '-')", "title": "asymmetry", "titleX": -55, "titleY": 181, "titleAlign": "center", "titleBaseline": "middle", "titleFont": "Liberation Serif"}}
            }
          },
          {
            "data": {"name": "tf"},
            "mark": {"type": "point", "shape": "square", "filled": false, "size": 60, "stroke": "#5BB544", "strokeWidth": 1.3, "opacity": 1},
            "encoding": {
              "x": {"field": "t", "type": "quantitative", "scale": {"domain": [0, 4], "nice": false, "zero": false},
                "axis": {"orient": "top", "values": [0,0.5,1,1.5,2,2.5,3,3.5,4], "tickSize": {"condition": {"test": "datum.value % 1 !== 0", "value": -4}, "value": -6.5}, "labels": false, "title": null}},
              "y": {"field": "g", "type": "quantitative", "scale": {"domain": [-0.28, 0.28], "nice": false, "zero": false},
                "axis": {"orient": "right", "values": [-0.25,-0.2,-0.15,-0.1,-0.05,0,0.05,0.1,0.15,0.2,0.25], "tickSize": {"condition": {"test": "abs(round(datum.value*100)) % 10 !== 0", "value": -4}, "value": -6.5}, "labels": false, "title": null}}
            }
          },
          {
            "data": {"values": [{"t":1.9,"y":-0.218}]},
            "mark": {"type": "point", "shape": "circle", "filled": false, "size": 60, "stroke": "#222", "strokeWidth": 1.3, "opacity": 1},
            "encoding": {
              "x": {"field": "t", "type": "quantitative", "scale": {"domain": [0, 4], "nice": false, "zero": false}, "axis": null},
              "y": {"field": "y", "type": "quantitative", "scale": {"domain": [-0.28, 0.28], "nice": false, "zero": false}, "axis": null}
            }
          },
          {
            "data": {"values": [{"t":1.9,"y":-0.25}]},
            "mark": {"type": "point", "shape": "square", "filled": false, "size": 60, "stroke": "#5BB544", "strokeWidth": 1.3, "opacity": 1},
            "encoding": {
              "x": {"field": "t", "type": "quantitative", "scale": {"domain": [0, 4], "nice": false, "zero": false}, "axis": null},
              "y": {"field": "y", "type": "quantitative", "scale": {"domain": [-0.28, 0.28], "nice": false, "zero": false}, "axis": null}
            }
          },
          {
            "data": {"values": [{"t":2.59,"y":-0.2107},{"t":2.94,"y":-0.2107}]},
            "mark": {"type": "line", "color": "#2a2a2a", "strokeWidth": 2.2},
            "encoding": {
              "x": {"field": "t", "type": "quantitative", "scale": {"domain": [0, 4], "nice": false, "zero": false}, "axis": null},
              "y": {"field": "y", "type": "quantitative", "scale": {"domain": [-0.28, 0.28], "nice": false, "zero": false}, "axis": null}
            }
          },
          {
            "data": {"values": [{"t":2.59,"y":-0.242},{"t":2.94,"y":-0.242}]},
            "mark": {"type": "line", "color": "#66BB4A", "strokeWidth": 2.2},
            "encoding": {
              "x": {"field": "t", "type": "quantitative", "scale": {"domain": [0, 4], "nice": false, "zero": false}, "axis": null},
              "y": {"field": "y", "type": "quantitative", "scale": {"domain": [-0.28, 0.28], "nice": false, "zero": false}, "axis": null}
            }
          },
          {
            "data": {"values": [{"t":2.12,"y":-0.218,"label":"1.5 K"},{"t":2.12,"y":-0.25,"label":"6.0 K"},{"t":3.035,"y":-0.22,"label":"Eq. (1) at 1.5 K"},{"t":3.035,"y":-0.252,"label":"Eq. (1) at 6.0 K"}]},
            "mark": {"type": "text", "align": "left", "baseline": "middle", "fontSize": 15, "color": "#222", "font": "Liberation Serif"},
            "encoding": {
              "x": {"field": "t", "type": "quantitative", "scale": {"domain": [0, 4], "nice": false, "zero": false}, "axis": null},
              "y": {"field": "y", "type": "quantitative", "scale": {"domain": [-0.28, 0.28], "nice": false, "zero": false}, "axis": null},
              "text": {"field": "label"}
            }
          },
          {
            "data": {"values": [{"t":0.18,"y":0.239,"label":"Ba₁₋ₓNaₓTi₂Sb₂O"},{"t":0.18,"y":0.2055,"label":"x = 0.25"},{"t":2.62,"y":0.239,"label":"μSR TF spectra"},{"t":2.62,"y":0.2055,"label":"μ₀H = 35 mT"}]},
            "mark": {"type": "text", "align": "left", "baseline": "middle", "fontSize": 20, "color": "#222", "font": "Liberation Serif"},
            "encoding": {
              "x": {"field": "t", "type": "quantitative", "scale": {"domain": [0, 4], "nice": false, "zero": false}, "axis": null},
              "y": {"field": "y", "type": "quantitative", "scale": {"domain": [-0.28, 0.28], "nice": false, "zero": false}, "axis": null},
              "text": {"field": "label"}
            }
          },
          {
            "data": {"values": [{"t":-0.477,"y":0.269,"label":"C"}]},
            "mark": {"type": "text", "align": "center", "baseline": "middle", "fontSize": 24, "fontWeight": "bold", "color": "#111", "font": "Liberation Serif"},
            "encoding": {
              "x": {"field": "t", "type": "quantitative", "scale": {"domain": [0, 4], "nice": false, "zero": false}, "axis": null},
              "y": {"field": "y", "type": "quantitative", "scale": {"domain": [-0.28, 0.28], "nice": false, "zero": false}, "axis": null},
              "text": {"field": "label"}
            }
          }
        ],
        "resolve": {"axis": {"x": "independent", "y": "independent"}}
      }
    ]
  }
]
}
